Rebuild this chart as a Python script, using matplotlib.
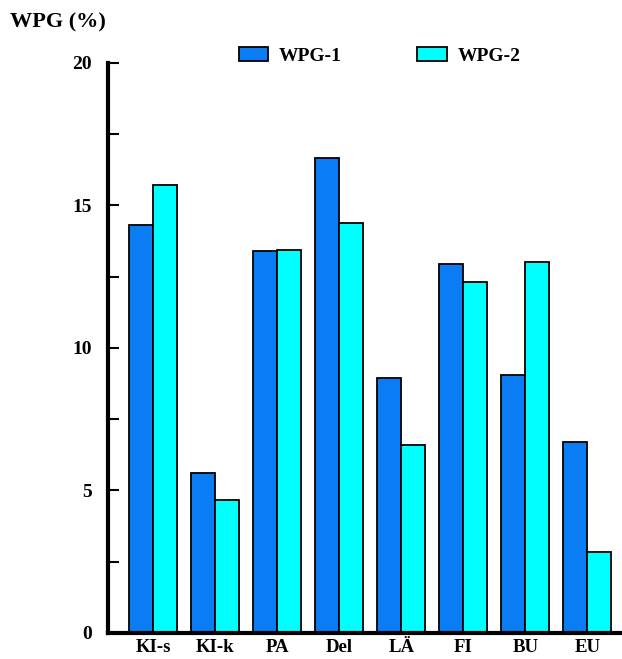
import matplotlib
matplotlib.use("Agg")
import matplotlib.pyplot as plt
import numpy as np
from matplotlib.ticker import MultipleLocator

categories = ["KI-s", "KI-k", "PA", "Del", "LÄ", "FI", "BU", "EU"]
wpg1 = [14.3, 5.6, 13.4, 16.65, 8.95, 12.95, 9.05, 6.7]
wpg2 = [15.7, 4.65, 13.45, 14.4, 6.6, 12.3, 13.0, 2.85]
series_names = ["WPG-1", "WPG-2"]
colors = ["#0a7df5", "#00ffff"]

font = {"family": "Liberation Serif", "weight": "bold"}

fig = plt.figure(figsize=(6.22, 6.59), dpi=100)
ax = fig.add_axes([0.174, 0.0395, 0.823, 0.865])

x = np.arange(len(categories))
w = 0.385
ax.bar(x - w / 2, wpg1, width=w, color=colors[0], edgecolor="black", linewidth=1.3, label=series_names[0])
ax.bar(x + w / 2, wpg2, width=w, color=colors[1], edgecolor="black", linewidth=1.3, label=series_names[1])

ax.set_xlim(-0.726, 7.53)
ax.set_ylim(0, 20)
for s in ["top", "right"]:
    ax.spines[s].set_visible(False)
for s in ["left", "bottom"]:
    ax.spines[s].set_linewidth(3)

ax.yaxis.set_major_locator(MultipleLocator(5))
ax.yaxis.set_minor_locator(MultipleLocator(2.5))
ax.tick_params(axis="y", which="both", direction="in", length=8, width=1.5, pad=12)
ax.tick_params(axis="x", length=0, pad=4)
ax.set_xticks(x)
ax.set_xticklabels(categories, fontdict={"family": "Liberation Serif", "weight": "bold", "size": 13.5})
for lab in ax.get_yticklabels():
    lab.set_fontfamily("Liberation Serif")
    lab.set_fontweight("bold")
    lab.set_fontsize(14)

fig.text(10 / 622, 1 - 22 / 659, "WPG (%)", fontdict=dict(font, size=16), va="center", ha="left")

leg = ax.legend(loc="center", bbox_to_anchor=(0.53, 1.0 + (63 - 56) / 570), ncol=2, frameon=False,
                prop={"family": "Liberation Serif", "weight": "bold", "size": 14},
                handlelength=1.5, handleheight=0.7, columnspacing=3.9, handletextpad=0.55,
                borderpad=0, borderaxespad=0)

fig.savefig("out.png", dpi=100)
